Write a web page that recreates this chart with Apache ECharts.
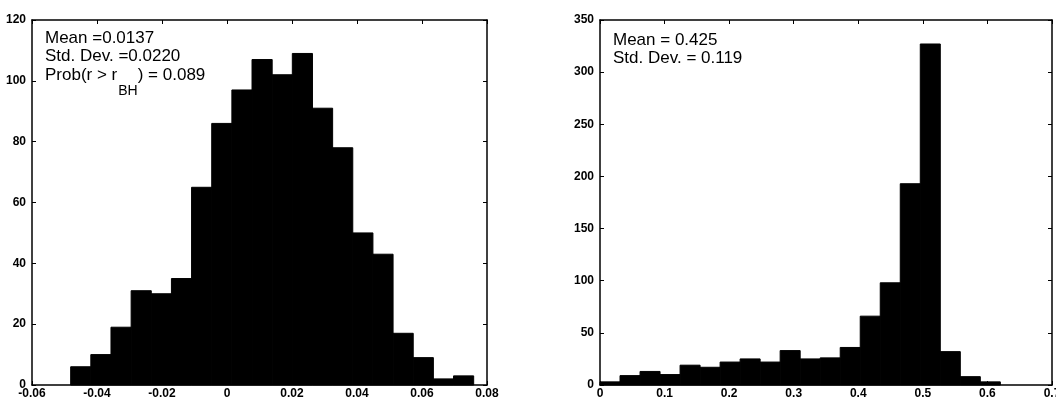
<!DOCTYPE html>
<html>
<head>
<meta charset="utf-8">
<script src="https://cdn.jsdelivr.net/npm/echarts@6/dist/echarts.min.js"></script>
<style>
html,body{margin:0;padding:0;background:#fff;}
#chart{width:1056px;height:399px;}
</style>
</head>
<body>
<div id="chart"></div>
<script>
// Left histogram: bin edges and counts
const leftEdges = [-0.0481, -0.0419, -0.0357, -0.0295, -0.0233, -0.0171, -0.0109, -0.0047, 0.0015, 0.0077,
  0.0139, 0.0201, 0.0263, 0.0325, 0.0387, 0.0449, 0.0511, 0.0573, 0.0635, 0.0697, 0.0759];
const leftCounts = [6, 10, 19, 31, 30, 35, 65, 86, 97, 107, 102, 109, 91, 78, 50, 43, 17, 9, 2, 3];
const leftXTicks = [-0.06, -0.04, -0.02, 0, 0.02, 0.04, 0.06, 0.08];
const leftYTicks = [0, 20, 40, 60, 80, 100, 120];
const leftStats = ['Mean =0.0137', 'Std. Dev. =0.0220'];
const leftProb = ['Prob(r > r', 'BH', ') = 0.089'];

// Right histogram: bin edges and counts
const rightEdges = [0, 0.031, 0.062, 0.093, 0.124, 0.155, 0.186, 0.217, 0.248, 0.279, 0.31,
  0.341, 0.372, 0.403, 0.434, 0.465, 0.496, 0.527, 0.558, 0.589, 0.62];
const rightCounts = [3, 9, 13, 10, 19, 17, 22, 25, 22, 33, 25, 26, 36, 66, 98, 193, 327, 32, 8, 3];
const rightXTicks = [0, 0.1, 0.2, 0.3, 0.4, 0.5, 0.6, 0.7];
const rightYTicks = [0, 50, 100, 150, 200, 250, 300, 350];
const rightStats = ['Mean = 0.425', 'Std. Dev. = 0.119'];

function histData(edges, counts) {
  return counts.map((c, i) => [edges[i], edges[i + 1], c]);
}

const chart = echarts.init(document.getElementById('chart'), null, {renderer: 'canvas'});

const labelStyle = {color: '#000', fontFamily: 'Liberation Sans', fontWeight: 'bold', fontSize: 12};
const lineStyle = {color: '#000', width: 1.5};

function xAx(gridIndex, ticks, position, showLabel) {
  return {
    type: 'value', gridIndex, position,
    min: ticks[0], max: ticks[ticks.length - 1], interval: ticks[1] - ticks[0],
    axisLine: {show: true, onZero: false, lineStyle},
    axisTick: {show: true, inside: true, length: 4, lineStyle: {color: '#000', width: 1}},
    axisLabel: Object.assign({show: showLabel, margin: 3, showMinLabel: true, showMaxLabel: true,
      hideOverlap: false, formatter: v => String(+v.toFixed(4))}, labelStyle),
    splitLine: {show: false}
  };
}
function yAx(gridIndex, ticks, position, showLabel) {
  return {
    type: 'value', gridIndex, position,
    min: ticks[0], max: ticks[ticks.length - 1], interval: ticks[1] - ticks[0],
    axisLine: {show: true, onZero: false, lineStyle},
    axisTick: {show: true, inside: true, length: 4, lineStyle: {color: '#000', width: 1}},
    axisLabel: Object.assign({show: showLabel, margin: 6, showMinLabel: true, showMaxLabel: true}, labelStyle),
    splitLine: {show: false}
  };
}

function renderBar(params, api) {
  const p0 = api.coord([api.value(0), api.value(2)]);
  const p1 = api.coord([api.value(1), 0]);
  return {
    type: 'rect',
    shape: {x: p0[0], y: p0[1], width: p1[0] - p0[0], height: p1[1] - p0[1]},
    style: {fill: '#000', stroke: '#000', lineWidth: 1}
  };
}

const mainFont = '17px "Liberation Sans"';
const subFont = '14px "Liberation Sans"';
const mctx = document.createElement('canvas').getContext('2d');
function measure(t, f) { mctx.font = f; return mctx.measureText(t).width; }
const probX0 = 45;
const probX1 = probX0 + measure(leftProb[0], mainFont);
const probX2 = probX1 + measure(leftProb[1], subFont);

function txt(x, y, text, font) {
  return {type: 'text', x, y, style: {text, font, fill: '#000', textVerticalAlign: 'middle', verticalAlign: 'middle'}};
}

chart.setOption({
  animation: false,
  backgroundColor: '#fff',
  grid: [
    {left: 32, top: 20, width: 455, height: 365, containLabel: false, outerBoundsMode: 'none'},
    {left: 600, top: 20, width: 452, height: 365, containLabel: false, outerBoundsMode: 'none'}
  ],
  xAxis: [
    xAx(0, leftXTicks, 'bottom', true),
    xAx(0, leftXTicks, 'top', false),
    xAx(1, rightXTicks, 'bottom', true),
    xAx(1, rightXTicks, 'top', false)
  ],
  yAxis: [
    yAx(0, leftYTicks, 'left', true),
    yAx(0, leftYTicks, 'right', false),
    yAx(1, rightYTicks, 'left', true),
    yAx(1, rightYTicks, 'right', false)
  ],
  series: [
    {type: 'custom', xAxisIndex: 0, yAxisIndex: 0, data: histData(leftEdges, leftCounts),
      renderItem: renderBar, encode: {x: [0, 1], y: 2}, z: 1},
    {type: 'custom', xAxisIndex: 2, yAxisIndex: 2, data: histData(rightEdges, rightCounts),
      renderItem: renderBar, encode: {x: [0, 1], y: 2}, z: 1}
  ],
  graphic: [
    txt(45, 38, leftStats[0], mainFont),
    txt(45, 56, leftStats[1], mainFont),
    txt(probX0, 75, leftProb[0], mainFont),
    txt(probX1 + 1, 91, leftProb[1], subFont),
    txt(probX2 + 1, 75, leftProb[2], mainFont),
    txt(613, 40, rightStats[0], mainFont),
    txt(613, 58, rightStats[1], mainFont)
  ]
});
</script>
</body>
</html>
